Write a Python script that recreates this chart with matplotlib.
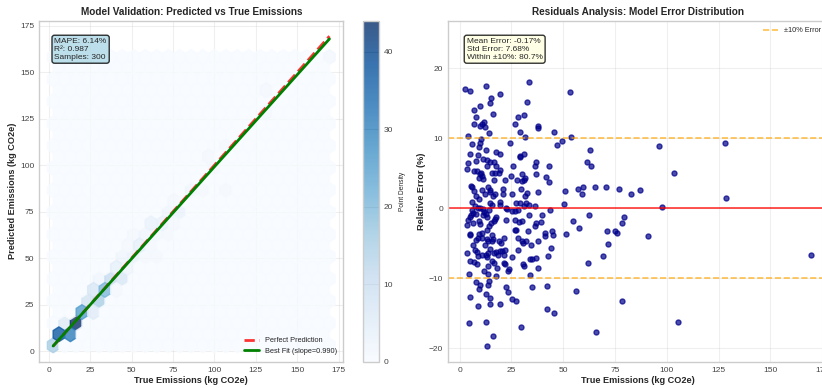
import numpy as np
import matplotlib
matplotlib.use('Agg')
import matplotlib.pyplot as plt

# values (true emissions, relative error %)
true_emissions = [
    2.6, 5.0, 12.7, 19.5, 33.3, 53.5, 15.1, 14.7, 32.5, 9.8, 7.1, 7.7, 16.1, 28.2, 30.9,
    11.9, 10.9, 7.1, 9.7, 12.1, 26.9, 37.7, 37.7, 14.2, 29.1, 45.4, 4.2, 31.4, 53.6, 10.5,
    9.7, 6.1, 24.2, 46.9, 49.4, 96.0, 128.3, 9.2, 12.9, 63.1, 5.2, 9.0, 17.6, 19.7, 29.0,
    31.1, 29.2, 11.1, 13.4, 14.8, 16.6, 8.1, 3.9, 13.2, 17.7, 25.6, 36.9, 36.2, 43.0, 61.4,
    63.6, 103.5, 3.7, 6.8, 8.5, 10.1, 15.6, 17.1, 19.6, 19.2, 10.0, 10.6, 9.2, 11.4, 24.8,
    30.3, 37.0, 41.5, 43.3, 16.6, 21.9, 27.5, 31.1, 31.6, 29.9, 5.5, 5.8, 13.7, 10.6, 6.9,
    21.1, 29.5, 50.9, 57.3, 59.4, 65.5, 70.5, 77.0, 82.8, 87.3, 14.5, 17.2, 14.8, 12.2, 8.1,
    9.5, 16.3, 21.1, 25.1, 31.4, 32.7, 37.7, 59.3, 128.8,
    5.8, 14.5, 15.6, 19.3, 19.3, 27.2, 29.3, 30.9, 32.2, 33.5, 36.2, 50.4, 97.7, 7.6, 8.9,
    9.9, 11.3, 22.2, 22.9, 5.8, 5.3, 4.2, 6.3, 14.2, 25.1, 28.0, 26.7, 33.7, 39.8, 43.5,
    62.6, 4.8, 7.7, 11.3, 12.9, 11.9, 13.2, 17.2, 17.7, 3.7, 6.3, 9.3, 10.0, 14.2, 15.1,
    16.4, 22.2, 26.6, 28.8, 30.3, 36.2, 36.9, 39.3, 54.8, 57.8, 78.6, 79.2, 51.5, 4.8, 5.2,
    9.3, 10.9, 13.2, 15.5, 26.7, 27.4, 33.2, 41.4, 44.8, 44.9, 71.2, 74.9, 76.0, 90.9, 9.0,
    7.7, 10.6, 13.2, 16.1, 13.8, 18.8, 21.4, 28.0, 30.1, 31.9, 37.7, 41.4, 20.1, 15.6, 30.8,
    34.6, 71.8, 6.3, 12.2, 14.8, 44.1, 7.6, 8.5, 3.4, 17.4, 19.3, 20.3, 22.0, 28.0, 13.8,
    12.6, 10.9, 9.0, 13.2, 16.7, 18.7, 21.6, 25.3, 34.0, 34.8, 37.1, 42.7, 69.4, 5.2, 6.8,
    8.5, 15.6, 16.7, 21.3, 21.9, 30.6, 30.9, 62.2, 13.8, 17.9, 23.7, 37.8, 11.9, 23.3, 34.1,
    4.7, 13.7, 17.7, 14.2, 8.1, 9.8, 13.7, 22.5, 35.1, 42.4, 9.2, 56.4, 23.5, 12.6, 5.2,
    14.5, 25.4, 27.4, 19.5, 14.5, 78.4, 9.0, 42.4, 45.7, 4.5, 12.6, 105.3, 29.5, 65.9, 16.3,
    13.4, 169.4,
]
relative_error = [
    17.1, 16.7, 17.5, 16.4, 18.1, 16.6, 15.7, 15.0, 15.2, 14.6, 14.0, 13.0, 13.5, 13.1, 13.3,
    12.4, 12.0, 12.0, 11.8, 11.6, 12.1, 11.8, 11.5, 10.8, 10.9, 10.9, 10.4, 10.2, 10.2, 9.9,
    9.4, 9.2, 9.4, 9.1, 9.6, 8.9, 9.3, 8.8, 8.4, 8.3, 7.8, 7.6, 8.0, 7.8, 7.5,
    7.7, 7.3, 7.0, 6.9, 6.6, 6.6, 6.8, 6.5, 6.1, 6.0, 6.0, 6.6, 6.0, 6.1, 6.6,
    6.0, 5.0, 5.6, 5.4, 5.3, 5.1, 5.0, 5.1, 5.5, 5.0, 4.9, 4.6, 4.3, 4.2, 4.6,
    4.9, 4.9, 4.5, 3.8, 4.0, 4.0, 4.0, 4.1, 4.3, 3.9, 3.2, 3.0, 3.0, 2.6, 2.5,
    2.8, 2.8, 2.5, 2.7, 3.0, 3.1, 3.0, 2.7, 2.0, 2.6, 2.6, 2.1, 2.4, 2.1, 1.8,
    1.3, 1.8, 2.1, 2.0, 1.7, 2.2, 2.3, 2.0, 1.5,
    0.9, 0.8, 0.5, 0.9, 0.5, 0.7, 0.8, 0.4, 0.7, 0.5, 0.3, 0.6, 0.2, 0.3, 0.0,
    0.1, -0.1, 0.1, -0.1, -0.3, -0.9, -1.6, -0.7, -0.2, -0.4, -0.2, -0.4, -1.0, -0.9, -0.3,
    -0.9, -1.2, -0.8, -1.0, -0.8, -0.5, -1.2, -1.5, -1.2, -2.4, -2.1, -1.8, -2.2, -2.5, -2.1,
    -1.8, -1.6, -1.6, -2.0, -1.8, -2.5, -2.1, -2.0, -1.8, -2.8, -2.1, -1.3, -3.7, -3.7, -3.8,
    -3.6, -3.5, -3.1, -3.8, -3.1, -3.1, -3.2, -3.5, -3.3, -3.8, -3.3, -3.3, -3.5, -3.9, -4.2,
    -4.5, -4.2, -4.4, -4.4, -4.6, -4.7, -4.3, -4.2, -4.6, -4.7, -4.6, -4.0, -4.9, -4.7, -5.0,
    -5.3, -5.1, -5.3, -5.2, -5.8, -5.6, -6.0, -6.2, -6.4, -6.2, -6.1, -6.1, -6.0, -5.9, -6.4,
    -6.6, -6.7, -6.8, -7.0, -6.4, -6.6, -6.6, -7.0, -7.2, -7.2, -7.1, -6.8, -6.8, -7.5, -7.7,
    -7.9, -7.5, -7.8, -7.8, -8.0, -8.0, -8.2, -7.8, -8.3, -8.5, -8.6, -8.5, -8.9, -9.0, -9.5,
    -9.4, -9.4, -9.6, -10.4, -10.5, -11.0, -10.9, -11.2, -11.3, -11.1, -11.5, -11.8, -12.0, -12.2, -12.7,
    -12.8, -13.0, -13.2, -13.6, -13.6, -13.3, -14.0, -14.4, -14.9, -16.4, -16.2, -16.2, -16.9, -17.6, -18.3,
    -19.7, -6.6,
]

stats_text = 'MAPE: 6.14%\nR²: 0.987\nSamples: 300'
resid_text = 'Mean Error: -0.17%\nStd Error: 7.68%\nWithin ±10%: 80.7%'
fit_label = 'Best Fit (slope=0.990)'

plt.style.use('seaborn-v0_8-whitegrid')
plt.rcParams['font.family'] = ['Liberation Sans', 'DejaVu Sans']
plt.rcParams['xtick.labelsize'] = 6
plt.rcParams['ytick.labelsize'] = 6
plt.rcParams['xtick.color'] = '#444444'
plt.rcParams['ytick.color'] = '#444444'

true_vals = np.array(true_emissions)
err = np.array(relative_error)
pred_vals = true_vals * (1 + err / 100)

fig = plt.figure(figsize=(8.22, 3.88), dpi=100)
ax1 = fig.add_axes([0.0478, 0.0678, 0.3698, 0.8789])
cax = fig.add_axes([0.4412, 0.0678, 0.0198, 0.878])
ax2 = fig.add_axes([0.5447, 0.0678, 0.4624, 0.8789])

# left: predicted vs true
hb = ax1.hexbin(true_vals, pred_vals, gridsize=24, cmap='Blues', alpha=0.8)
lo = min(true_vals.min(), pred_vals.min())
hi = max(true_vals.max(), pred_vals.max())
ax1.plot([lo, hi], [lo, hi], 'r--', lw=2, alpha=0.8, label='Perfect Prediction')
slope, intercept = np.polyfit(true_vals, pred_vals, 1)
xs = np.array([true_vals.min(), true_vals.max()])
ax1.plot(xs, slope * xs + intercept, color='green', lw=2, label=fit_label)
ax1.set_xlabel('True Emissions (kg CO2e)', fontsize=6.6, fontweight='bold', labelpad=2)
ax1.set_ylabel('Predicted Emissions (kg CO2e)', fontsize=6.6, fontweight='bold', labelpad=2)
ax1.set_title('Model Validation: Predicted vs True Emissions', fontsize=7.2, fontweight='bold', pad=4)
ax1.set_xticks(np.arange(0, 176, 25))
ax1.set_yticks(np.arange(0, 176, 25))
ax1.legend(loc='lower right', fontsize=5.3)
ax1.grid(True, alpha=0.3)
ax1.text(0.05, 0.95, stats_text, transform=ax1.transAxes, va='top', fontsize=6,
         bbox=dict(boxstyle='round', facecolor='lightblue', alpha=0.8))
cb = fig.colorbar(hb, cax=cax)
cb.set_ticks(np.arange(0, 50, 10))
cb.set_label('Point Density', fontsize=4.8)
cb.ax.tick_params(labelsize=6)
cb.outline.set_edgecolor('#cccccc')

# right: residuals
ax2.scatter(true_vals, err, s=13, c='darkblue', alpha=0.7)
ax2.axhline(0, color='red', lw=1.2, alpha=0.8)
ax2.axhline(10, color='orange', ls='--', lw=1.2, alpha=0.7, label='±10% Error')
ax2.axhline(-10, color='orange', ls='--', lw=1.2, alpha=0.7)
ax2.set_ylim(-21.9, 26.8)
ax2.set_xticks(np.arange(0, 176, 25))
ax2.set_xlabel('True Emissions (kg CO2e)', fontsize=6.6, fontweight='bold', labelpad=2)
ax2.set_ylabel('Relative Error (%)', fontsize=6.6, fontweight='bold', labelpad=2)
ax2.set_title('Residuals Analysis: Model Error Distribution', fontsize=7.2, fontweight='bold', pad=4)
ax2.legend(loc='upper right', fontsize=5.3)
ax2.grid(True, alpha=0.3)
ax2.text(0.05, 0.95, resid_text, transform=ax2.transAxes, va='top', fontsize=6,
         bbox=dict(boxstyle='round', facecolor='lightyellow', alpha=0.8))

fig.savefig('out.png', dpi=100)
